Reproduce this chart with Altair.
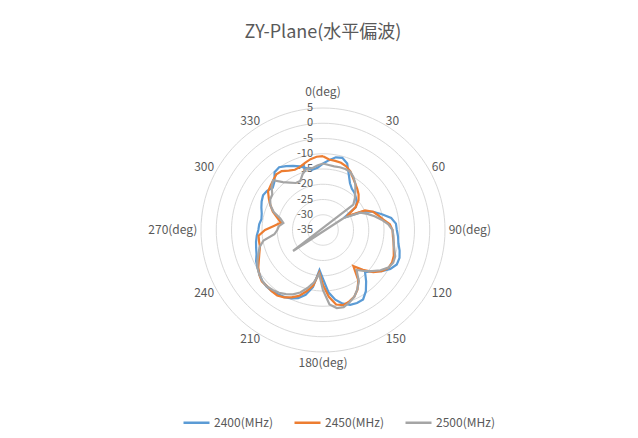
import altair as alt
import pandas as pd

# ---------------- data ----------------
angles = list(range(0, 360, 5))

s2400 = [-13.2, -12.0, -10.8, -10.5, -11.8, -15.0, -17.3, -18.5, -19.0, -19.8,
         -20.6, -21.8, -27.0, -20.8, -17.5, -15.0, -12.3, -11.0, -10.8, -10.3,
         -9.9, -9.0, -8.3, -8.3, -9.5, -11.5, -14.0, -15.5, -13.0, -10.5,
         -8.7, -8.6, -8.9, -10.0, -11.8, -14.5, -19.0, -21.8, -16.0, -13.0,
         -11.2, -10.3, -9.6, -9.3, -8.9, -8.8, -9.0, -9.6, -10.2, -10.8,
         -11.8, -12.3, -12.7, -13.2, -13.8, -14.0, -14.5, -14.2, -13.5, -12.8,
         -12.3, -12.6, -13.5, -12.5, -10.3, -9.9, -10.8, -11.8, -12.8, -14.0,
         -14.9, -14.5]

s2450 = [-10.8, -11.8, -12.0, -12.2, -12.8, -13.8, -15.3, -16.5, -17.5, -18.5,
         -19.8, -22.0, -26.0, -19.8, -17.5, -16.3, -15.0, -13.0, -12.2, -12.0,
         -11.5, -11.0, -10.3, -10.0, -10.2, -11.5, -13.5, -16.5, -19.5, -14.8,
         -12.4, -10.8, -10.0, -9.5, -10.2, -13.0, -17.0, -21.0, -16.5, -14.2,
         -12.0, -10.6, -9.5, -8.8, -8.8, -9.0, -8.8, -9.5, -10.5, -11.8,
         -12.8, -13.6, -13.7, -13.8, -16.0, -19.0, -21.0, -19.5, -17.5, -16.0,
         -14.5, -13.0, -12.5, -11.9, -11.2, -11.4, -12.5, -13.2, -13.0, -12.2,
         -11.4, -10.9]

s2500 = [-13.2, -13.6, -13.8, -13.7, -13.7, -13.9, -15.0, -16.5, -18.5, -20.2,
         -22.0, -47.0, -27.0, -21.5, -19.5, -17.5, -15.5, -13.5, -12.2, -11.8,
         -11.5, -10.8, -9.8, -9.6, -10.3, -12.0, -14.0, -16.0, -17.9, -14.5,
         -12.5, -10.8, -9.7, -8.8, -9.0, -10.5, -15.3, -20.5, -17.5, -15.3,
         -13.2, -11.7, -10.7, -9.9, -9.3, -8.9, -9.0, -9.5, -10.2, -11.3,
         -12.5, -13.5, -15.2, -19.0, -20.0, -20.5, -21.8, -20.5, -17.8, -16.0,
         -15.0, -14.7, -13.0, -11.9, -14.5, -16.0, -17.2, -17.3, -15.5, -14.2,
         -14.4, -13.8]

series_names = ["2400(MHz)", "2450(MHz)", "2500(MHz)"]
series_colors = ["#5B9BD5", "#ED7D31", "#A5A5A5"]

r_min = -35
ring_levels = [-30, -25, -20, -15, -10, -5, 0, 5]
radial_ticks = [5, 0, -5, -10, -15, -20, -25, -30, -35]
angle_ticks = [0, 30, 60, 90, 120, 150, 180, 210, 240, 270, 300, 330]
angle_labels = ["0(deg)", "30", "60", "90(deg)", "120", "150", "180(deg)",
                "210", "240", "270(deg)", "300", "330"]

# ---------------- tables ----------------
rows = []
for name, vals in zip(series_names, [s2400, s2450, s2500]):
    for i, (a, v) in enumerate(zip(angles, vals)):
        rows.append({"series": name, "angle": a, "value": v, "idx": i})
    rows.append({"series": name, "angle": 360, "value": vals[0], "idx": len(vals)})
df = pd.DataFrame(rows)

ring_rows = []
for lv in ring_levels:
    for a in range(0, 361, 3):
        ring_rows.append({"level": lv, "angle": a})
rings = pd.DataFrame(ring_rows)

rad_df = pd.DataFrame({"level": radial_ticks, "label": [str(t) for t in radial_ticks]})
ang_df = pd.DataFrame({"angle": angle_ticks, "label": angle_labels})

# ---------------- geometry ----------------
PX = 3.05          # pixels per dB
W, H = 622, 362    # plot area
CX, CY = 315, 162  # centre inside plot area
xdom = [-CX / PX, (W - CX) / PX]
ydom = [-(H - CY) / PX, CY / PX]

FONT = "Noto Sans CJK JP"
TXT = "#595959"

xs = alt.Scale(domain=xdom, nice=False, zero=False)
ys = alt.Scale(domain=ydom, nice=False, zero=False)
X = alt.X("x:Q", scale=xs, axis=None)
Y = alt.Y("y:Q", scale=ys, axis=None)


def polar(ch, r_expr):
    return ch.transform_calculate(
        r=r_expr
    ).transform_calculate(
        x="datum.r * sin(datum.angle * PI / 180)",
        y="datum.r * cos(datum.angle * PI / 180)",
    )


ring_layer = polar(alt.Chart(rings), f"datum.level - ({r_min})").mark_line(
    color="#D9D9D9", strokeWidth=1
).encode(x=X, y=Y, detail="level:N", order="angle:Q")

rad_layer = alt.Chart(rad_df).transform_calculate(
    x="0", y=f"datum.level - ({r_min})"
).mark_text(align="right", baseline="middle", dx=-10, font=FONT,
            fontSize=11, color=TXT).encode(x=X, y=Y, text="label:N")


def ang_layer(sel, align, baseline, rr):
    return polar(
        alt.Chart(ang_df).transform_filter(sel), str(rr)
    ).mark_text(align=align, baseline=baseline, font=FONT, fontSize=12,
                color=TXT).encode(x=X, y=Y, text="label:N")


lab_top = ang_layer("datum.angle == 0", "center", "bottom", 43)
lab_bot = ang_layer("datum.angle == 180", "center", "top", 42)
lab_right = ang_layer("datum.angle > 0 && datum.angle < 180", "left", "middle", 41.2)
lab_left = ang_layer("datum.angle > 180", "right", "middle", 41.2)

lines = polar(alt.Chart(df), f"datum.value - ({r_min})").mark_line(
    strokeWidth=2.2
).encode(
    x=X, y=Y,
    color=alt.Color(
        "series:N",
        scale=alt.Scale(domain=series_names, range=series_colors),
        sort=series_names,
        legend=alt.Legend(
            title=None, orient="none", direction="horizontal",
            legendX=174, legendY=340,
            symbolType="stroke", symbolSize=676, symbolStrokeWidth=2.5,
            labelFont=FONT, labelFontSize=12, labelColor=TXT,
            labelOffset=3, columnPadding=16,
        ),
    ),
    order="idx:Q",
)

chart = alt.layer(
    ring_layer, rad_layer, lab_top, lab_bot, lab_right, lab_left, lines
).properties(
    width=W, height=H,
    title=alt.TitleParams("ZY-Plane(水平偏波)", font=FONT, fontSize=18,
                          fontWeight="normal", color=TXT, anchor="middle",
                          offset=26, dx=4),
    autosize=alt.AutoSizeParams(type="none"),
    padding={"left": 0, "right": 0, "top": 60, "bottom": 0},
).configure(background="white").configure_view(stroke=None)

chart.save("out.html", embed_options={"renderer": "svg", "actions": False})
